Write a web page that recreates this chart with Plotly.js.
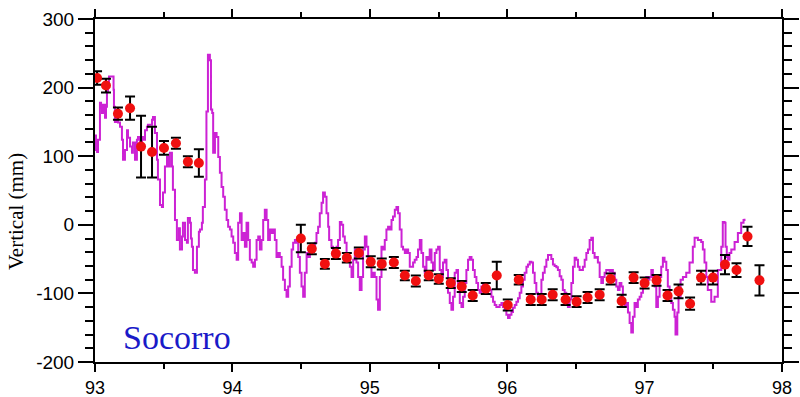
<!DOCTYPE html>
<html>
<head>
<meta charset="utf-8">
<script src="https://cdn.plot.ly/plotly-3.0.1.min.js"></script>
<style>html,body{margin:0;padding:0;background:#fff}#chart{width:800px;height:397px}</style>
</head>
<body>
<div id="chart"></div>
<script>
// Continuous (magenta) series: decimal year and vertical displacement (mm)
const lineYears = [
93.000,93.007,93.015,93.022,93.036,93.044,93.051,93.058,93.073,93.080,93.087,93.095,93.102,93.116,93.131,93.135,93.138,93.145,93.160,93.167,
93.182,93.196,93.204,93.218,93.233,93.240,93.255,93.269,93.276,93.291,93.305,93.313,93.327,93.342,93.349,93.364,93.378,93.385,93.400,93.415,
93.422,93.436,93.451,93.458,93.473,93.487,93.495,93.509,93.524,93.531,93.545,93.560,93.567,93.582,93.596,93.611,93.618,93.633,93.640,93.655,
93.669,93.676,93.691,93.698,93.705,93.713,93.727,93.742,93.756,93.764,93.778,93.785,93.800,93.811,93.822,93.836,93.844,93.853,93.860,93.873,
93.885,93.897,93.909,93.921,93.933,93.945,93.958,93.969,93.982,93.994,94.006,94.018,94.031,94.042,94.055,94.067,94.079,94.091,94.103,94.115,
94.127,94.140,94.151,94.164,94.176,94.188,94.200,94.212,94.224,94.236,94.249,94.260,94.273,94.285,94.297,94.309,94.321,94.333,94.345,94.358,
94.369,94.382,94.394,94.406,94.418,94.431,94.442,94.455,94.467,94.479,94.491,94.503,94.515,94.527,94.540,94.551,94.564,94.576,94.600,94.612,
94.624,94.636,94.649,94.660,94.673,94.685,94.697,94.704,94.721,94.733,94.745,94.758,94.769,94.782,94.794,94.806,94.818,94.831,94.842,94.855,
94.867,94.879,94.891,94.903,94.915,94.927,94.940,94.951,94.964,94.976,94.988,95.000,95.012,95.024,95.036,95.049,95.060,95.073,95.085,95.097,
95.109,95.121,95.133,95.145,95.158,95.169,95.182,95.194,95.206,95.218,95.231,95.242,95.255,95.267,95.279,95.291,95.315,95.327,95.340,95.351,
95.364,95.376,95.388,95.400,95.412,95.424,95.436,95.449,95.460,95.473,95.485,95.497,95.509,95.521,95.533,95.545,95.558,95.569,95.582,95.594,
95.606,95.618,95.631,95.642,95.655,95.667,95.679,95.691,95.703,95.715,95.727,95.740,95.751,95.764,95.776,95.788,95.800,95.812,95.824,95.836,
95.849,95.860,95.873,95.885,95.897,95.909,95.921,95.933,95.945,95.958,95.969,95.982,95.994,96.006,96.018,96.031,96.042,96.055,96.067,96.079,
96.091,96.103,96.115,96.127,96.140,96.151,96.164,96.176,96.188,96.200,96.212,96.224,96.236,96.249,96.260,96.273,96.285,96.297,96.309,96.321,
96.333,96.345,96.358,96.369,96.382,96.394,96.405,96.418,96.430,96.442,96.455,96.467,96.479,96.491,96.503,96.515,96.527,96.540,96.551,96.564,
96.576,96.588,96.600,96.612,96.624,96.636,96.649,96.660,96.673,96.685,96.697,96.709,96.721,96.733,96.745,96.758,96.769,96.782,96.794,96.806,
96.818,96.831,96.842,96.855,96.867,96.879,96.891,96.903,96.915,96.927,96.940,96.951,96.964,96.976,96.988,97.000,97.012,97.024,97.036,97.049,
97.060,97.073,97.085,97.097,97.109,97.121,97.133,97.145,97.158,97.169,97.182,97.194,97.206,97.218,97.225,97.238,97.247,97.262,97.279,97.303,
97.327,97.351,97.364,97.388,97.412,97.424,97.436,97.449,97.460,97.485,97.509,97.533,97.558,97.569,97.582,97.589,97.598,97.606,97.618,97.631,
97.655,97.679,97.703,97.720,97.727
];
const lineValues = [
130,109,106,124,178,170,163,175,156,172,194,207,216,216,216,197,172,150,157,149,
143,124,95,109,138,127,114,105,120,95,124,128,120,128,124,138,143,146,146,153,
157,134,95,66,29,26,47,85,99,85,105,85,51,7,-22,-5,-36,-17,3,-22,
-26,10,3,-20,-32,-66,-70,-32,-10,-7,3,26,66,165,248,240,168,163,105,134,
128,99,76,55,41,22,7,-3,-7,-17,-26,-41,-51,3,17,-22,-12,-32,3,-22,
-51,-55,-61,-51,-22,-17,-36,-22,7,22,7,-22,-7,-12,-7,-22,-47,-41,-47,-61,
-80,-95,-105,-90,-61,-36,-26,-22,-26,-47,-70,-90,-105,-70,-41,-47,-41,-36,-26,-12,
-3,17,32,47,41,17,-3,-22,-32,-36,-41,-32,-22,4,0,-17,-26,-41,-47,-61,
-76,-51,-36,-55,-76,-95,-76,-36,-17,-32,-51,-61,-76,-70,-76,-109,-124,-76,-32,-36,
-22,-7,-3,-7,7,12,22,26,17,-7,-32,-36,-41,-36,-41,-61,-55,-51,-47,-36,
-22,-41,-61,-70,-47,-51,-36,-55,-66,-41,-36,-32,-66,-76,-55,-51,-66,-99,-114,-124,
-105,-70,-66,-85,-114,-120,-105,-85,-66,-51,-47,-51,-66,-76,-85,-95,-99,-90,-85,-90,
-95,-92,-95,-105,-112,-117,-120,-120,-117,-114,-120,-124,-131,-136,-131,-127,-121,-117,-112,-107,
-99,-90,-80,-70,-61,-58,-54,-55,-70,-85,-99,-109,-105,-80,-70,-61,-51,-44,-44,-50,
-58,-60,-62,-66,-75,-80,-95,-99,-105,-120,-109,-85,-61,-48,-51,-61,-66,-66,-61,-51,
-41,-36,-22,-19,-41,-48,-47,-55,-76,-85,-76,-70,-66,-66,-68,-66,-70,-80,-90,-95,
-85,-90,-109,-120,-114,-128,-143,-157,-134,-114,-120,-109,-105,-99,-90,-85,-76,-80,-76,-66,
-76,-90,-120,-105,-76,-61,-48,-54,-66,-90,-105,-114,-124,-134,-160,-128,-105,-80,-76,-70,
-55,-32,-19,-22,-25,-36,-55,-76,-95,-112,-105,-66,-32,4,3,-32,-47,-51,-41,-36,
-25,-12,3,7,9
];

// Monthly estimates (red points) with error bars
const pointYears = [
93.015,93.080,93.167,93.255,93.335,93.415,93.502,93.589,93.676,93.756,
94.498,94.578,94.673,94.753,94.833,94.920,95.007,95.087,95.175,95.255,
95.335,95.429,95.502,95.589,95.669,95.749,95.844,95.924,96.004,96.084,
96.171,96.251,96.331,96.425,96.505,96.585,96.673,96.753,96.833,96.920,
97.000,97.087,97.167,97.247,97.331,97.411,97.498,97.585,97.669,97.749,97.836
];
const pointValues = [
214,203,162,170,114,106,112,119,92,90,
-20,-35,-57,-42,-48,-41,-54,-57,-55,-74,
-82,-74,-79,-85,-90,-103,-93,-74,-117,-80,
-109,-109,-102,-109,-112,-106,-102,-79,-111,-77,
-85,-81,-103,-97,-115,-77,-77,-58,-66,-17,-81
];
const pointErrors = [
10,10,9,17,45,37,10,8,8,20,
20,8,7,8,7,8,8,8,8,7,
8,7,7,7,8,8,8,20,8,7,
8,8,8,8,8,8,8,8,9,8,
8,8,8,10,9,10,10,14,10,14,22
];

const xTickVals = [93,94,95,96,97,98];
const xTickText = ['93','94','95','96','97','98'];
const yTickVals = [-200,-100,0,100,200,300];
const yTickText = ['-200','-100','0','100','200','300'];
const stationName = 'Socorro';
const yTitle = 'Vertical (mm)';

const axisFont = {family: 'Liberation Sans, Arial, sans-serif', size: 19, color: '#000'};
const xTickFont = {family: 'Liberation Sans, Arial, sans-serif', size: 18, color: '#000'};

const traces = [
  {
    x: lineYears, y: lineValues, type: 'scatter', mode: 'lines',
    line: {color: '#cc22d4', width: 2, shape: 'hv'},
    hoverinfo: 'skip', showlegend: false
  },
  {
    x: pointYears, y: pointValues, type: 'scatter', mode: 'markers',
    marker: {color: '#f01010', size: 10, symbol: 'circle'},
    error_y: {type: 'data', array: pointErrors, visible: true, color: '#000', thickness: 2, width: 5},
    showlegend: false
  }
];

const layout = {
  width: 800, height: 397,
  margin: {l: 95, r: 18, t: 19, b: 35, pad: 0},
  paper_bgcolor: '#fff', plot_bgcolor: '#fff',
  showlegend: false,
  font: axisFont,
  xaxis: {
    range: [93, 98], tickvals: xTickVals, ticktext: xTickText,
    showgrid: false, zeroline: false,
    showline: true, linecolor: '#000', linewidth: 2, mirror: 'ticks',
    ticks: 'outside', ticklen: 8, tickwidth: 2, tickcolor: '#000',
    minor: {dtick: 0.5, tick0: 93, ticks: 'outside', ticklen: 5, tickwidth: 2, tickcolor: '#000', showgrid: false},
    tickfont: xTickFont
  },
  yaxis: {
    range: [-200, 300], tickvals: yTickVals, ticktext: yTickText,
    showgrid: false, zeroline: false,
    showline: true, linecolor: '#000', linewidth: 2, mirror: 'ticks',
    ticks: 'outside', ticklen: 15, tickwidth: 2, tickcolor: '#000',
    minor: {dtick: 20, tick0: 0, ticks: 'outside', ticklen: 8, tickwidth: 2, tickcolor: '#000', showgrid: false},
    tickfont: axisFont
  },
  annotations: [
    {
      x: 93.19, y: -165, xref: 'x', yref: 'y', xanchor: 'left', yanchor: 'middle',
      text: stationName, showarrow: false,
      font: {family: 'Liberation Serif, Times New Roman, serif', size: 34, color: '#1a1ac8'}
    },
    {
      x: 16, y: 212, xref: 'paper', yref: 'paper', showarrow: false,
      text: yTitle, textangle: -90, xanchor: 'center', yanchor: 'middle',
      font: {family: 'Liberation Serif, Times New Roman, serif', size: 21, color: '#000'}
    }
  ]
};
// position the rotated axis title in pixel terms (paper fractions)
layout.annotations[1].x = (16 - 95) / (800 - 95 - 18);
layout.annotations[1].y = (397 - 35 - 212) / (397 - 19 - 35);

Plotly.newPlot('chart', traces, layout, {displayModeBar: false, staticPlot: true});
</script>
</body>
</html>
